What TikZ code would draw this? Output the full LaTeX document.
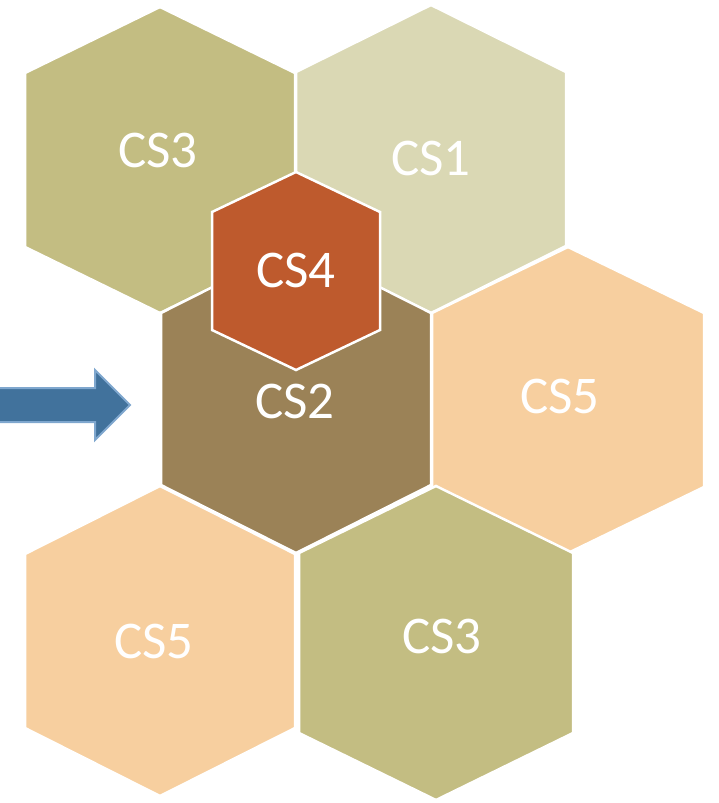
\documentclass[tikz,border=0pt]{standalone}
\usepackage{fontspec}
\setmainfont{Carlito}
\usepackage{tikz}

\definecolor{cellolive}{HTML}{C3BD82}
\definecolor{cellpale}{HTML}{DAD8B4}
\definecolor{cellrust}{HTML}{BE5A2D}
\definecolor{cellbrown}{HTML}{9B8257}
\definecolor{cellpeach}{HTML}{F7CF9F}
\definecolor{arrowblue}{HTML}{41729C}
\definecolor{arrowrim}{HTML}{7FA7CE}

\newcommand{\hexcell}[9]{%
  \filldraw[fill=#7, draw=white, line width=2.5pt]
    (#2,#3) +(0,-#5) -- +(#4,-#6) -- +(#4,#6) -- +(0,#5) -- +(-#4,#6) -- +(-#4,-#6) -- cycle;
  \node[cell] (#1) at (#9) {#8};}

\begin{document}
\begin{tikzpicture}[x=1pt, y=-1pt]
    \tikzstyle{cell} = [font=\fontsize{53}{60}\selectfont, text=white, inner sep=0pt]
    \useasboundingbox (0,0) rectangle (718,803);
    \hexcell{topthree}{160}{160}{135}{153}{87}{cellolive}{CS3}{158,150}
    \hexcell{one}{431}{159}{135}{154}{87}{cellpale}{CS1}{431,158}
    \hexcell{rightfive}{568}{400}{136}{153}{87}{cellpeach}{CS5}{560,396}
    \hexcell{two}{296}{399}{135}{154}{86}{cellbrown}{CS2}{295,401}
    \hexcell{leftfive}{160}{641}{135}{155}{87}{cellpeach}{CS5}{154,641}
    \hexcell{lowthree}{436}{643}{137}{157}{90}{cellolive}{CS3}{442,636}
    \hexcell{four}{296}{271}{84}{99}{59}{cellrust}{CS4}{296,270}
    \filldraw[fill=arrowblue, draw=arrowrim, line width=2pt, line join=miter]
      (-3,388) -- (95,388) -- (95,370) -- (130,405) -- (95,440) -- (95,422) -- (-3,422) -- cycle;
\end{tikzpicture}
\end{document}
